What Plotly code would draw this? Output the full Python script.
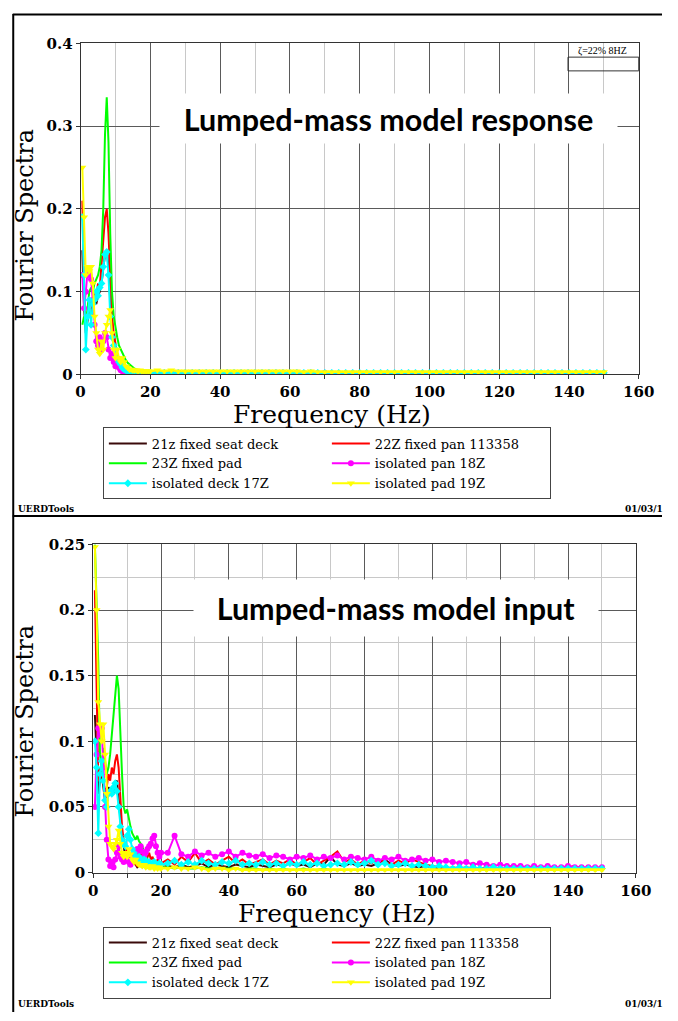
import plotly.graph_objects as go

W, H = 678, 1021

# ---------------- data ----------------
FREQ = [0.5, 1, 1.5, 2, 2.5, 3, 3.5, 4, 4.5, 5,
        5.5, 6, 6.5, 7, 7.5, 8, 8.5, 9, 9.5, 10,
        10.5, 11, 11.5, 12, 12.5, 13, 13.5, 14, 14.5, 15,
        15.5, 16, 16.5, 17, 17.5, 18, 18.5, 19, 19.5, 20,
        22, 24, 26, 28, 30, 32, 34, 36, 38, 40, 42, 44, 46,
        48, 50, 52, 54, 56, 58, 60, 62, 64, 66, 68, 70, 72,
        74, 76, 78, 80, 82, 84, 86, 88, 90, 92, 94, 96, 98,
        100, 102, 104, 106, 108, 110, 112, 114, 116, 118, 120, 122, 124,
        126, 128, 130, 132, 134, 136, 138, 140, 142, 144, 146, 148, 150]

SERIES_NAMES = ["21z fixed seat deck", "22Z fixed pan 113358", "23Z fixed pad",
                "isolated pan 18Z", "isolated deck 17Z", "isolated pad 19Z"]

# ---- response (top panel) ----
RESP_21Z = [0.15, 0.08, 0.05, 0.065, 0.08, 0.075, 0.07, 0.09, 0.085, 0.095,
            0.1, 0.11, 0.13, 0.145, 0.15, 0.13, 0.09, 0.06, 0.04, 0.03,
            0.022, 0.016, 0.012, 0.009, 0.007, 0.006, 0.005, 0.004, 0.004, 0.003,
            0.003, 0.003, 0.002, 0.002, 0.002, 0.002, 0.002, 0.002, 0.001, 0.001,
            0.001, 0.002, 0.001, 0.001, 0.002, 0.001, 0.001, 0.001, 0.002, 0.001, 0.001, 0.001, 0.001,
            0.001, 0.001, 0.002, 0.001, 0.001, 0.001, 0.001, 0.001, 0.001, 0.002, 0.001, 0.001, 0.001,
            0.001, 0.001, 0.001, 0.001, 0.001, 0.001, 0.001, 0.001, 0.001, 0.001, 0.001, 0.001, 0.001,
            0.001, 0.001, 0.001, 0.001, 0.001, 0.001, 0.001, 0.001, 0.001, 0.001, 0.001, 0.001, 0.001,
            0.001, 0.001, 0.001, 0.001, 0.001, 0.001, 0.001, 0.001, 0.001, 0.001, 0.001, 0.001, 0.001]
RESP_22Z = [0.21, 0.1, 0.06, 0.07, 0.09, 0.085, 0.075, 0.1, 0.095, 0.11,
            0.105, 0.13, 0.16, 0.19, 0.2, 0.17, 0.12, 0.07, 0.05, 0.035,
            0.025, 0.018, 0.013, 0.01, 0.008, 0.006, 0.005, 0.004, 0.004, 0.003,
            0.003, 0.003, 0.002, 0.003, 0.002, 0.002, 0.002, 0.002, 0.002, 0.001,
            0.002, 0.001, 0.002, 0.001, 0.002, 0.001, 0.002, 0.001, 0.001, 0.002, 0.001, 0.001, 0.002,
            0.001, 0.002, 0.001, 0.001, 0.002, 0.001, 0.001, 0.002, 0.001, 0.001, 0.001, 0.002, 0.001,
            0.001, 0.001, 0.002, 0.001, 0.001, 0.001, 0.001, 0.002, 0.001, 0.001, 0.001, 0.001, 0.001,
            0.001, 0.001, 0.001, 0.001, 0.001, 0.001, 0.001, 0.001, 0.001, 0.001, 0.001, 0.001, 0.001,
            0.001, 0.001, 0.001, 0.001, 0.001, 0.001, 0.001, 0.001, 0.001, 0.001, 0.001, 0.001, 0.001]
RESP_23Z = [0.06, 0.07, 0.06, 0.085, 0.1, 0.105, 0.1, 0.11, 0.115, 0.12,
            0.13, 0.15, 0.2, 0.29, 0.335, 0.28, 0.17, 0.1, 0.07, 0.055,
            0.045, 0.035, 0.03, 0.025, 0.02, 0.017, 0.014, 0.012, 0.01, 0.008,
            0.007, 0.006, 0.005, 0.004, 0.004, 0.003, 0.003, 0.003, 0.002, 0.002,
            0.002, 0.002, 0.002, 0.002, 0.002, 0.002, 0.002, 0.001, 0.002, 0.001, 0.002, 0.001, 0.001,
            0.001, 0.001, 0.001, 0.001, 0.001, 0.001, 0.001, 0.001, 0.001, 0.001, 0.001, 0.001, 0.001,
            0.001, 0.001, 0.001, 0.001, 0.001, 0.001, 0.001, 0.001, 0.001, 0.001, 0.001, 0.001, 0.001,
            0.001, 0.001, 0.001, 0.001, 0.001, 0.001, 0.001, 0.001, 0.001, 0.001, 0.001, 0.001, 0.001,
            0.001, 0.001, 0.001, 0.001, 0.001, 0.001, 0.001, 0.001, 0.001, 0.001, 0.001, 0.001, 0.001]
RESP_18Z = [0.12, 0.08, 0.1, 0.125, 0.12, 0.115, 0.09, 0.06, 0.04, 0.035,
            0.045, 0.03, 0.04, 0.05, 0.045, 0.03, 0.02, 0.025, 0.015, 0.01,
            0.012, 0.008, 0.005, 0.004, 0.003, 0.003, 0.003, 0.002, 0.002, 0.002,
            0.002, 0.002, 0.002, 0.002, 0.002, 0.002, 0.002, 0.002, 0.002, 0.002,
            0.002, 0.002, 0.002, 0.002, 0.002, 0.002, 0.002, 0.002, 0.002, 0.002, 0.002, 0.002, 0.002,
            0.002, 0.002, 0.002, 0.002, 0.002, 0.002, 0.002, 0.002, 0.001, 0.002, 0.001, 0.002, 0.001,
            0.001, 0.001, 0.001, 0.001, 0.001, 0.001, 0.001, 0.001, 0.001, 0.001, 0.001, 0.001, 0.001,
            0.001, 0.001, 0.001, 0.001, 0.001, 0.001, 0.001, 0.001, 0.001, 0.001, 0.001, 0.001, 0.001,
            0.001, 0.001, 0.001, 0.001, 0.001, 0.001, 0.001, 0.001, 0.001, 0.001, 0.001, 0.001, 0.001]
RESP_17Z = [0.19, 0.12, 0.03, 0.07, 0.09, 0.06, 0.085, 0.09, 0.1, 0.095,
            0.105, 0.11, 0.13, 0.145, 0.148, 0.12, 0.07, 0.045, 0.035, 0.03,
            0.02, 0.015, 0.012, 0.008, 0.006, 0.005, 0.004, 0.003, 0.003, 0.003,
            0.002, 0.002, 0.002, 0.002, 0.002, 0.002, 0.002, 0.002, 0.002, 0.002,
            0.002, 0.002, 0.002, 0.002, 0.002, 0.002, 0.002, 0.002, 0.002, 0.002, 0.002, 0.002, 0.002,
            0.002, 0.002, 0.002, 0.002, 0.002, 0.002, 0.002, 0.002, 0.002, 0.002, 0.002, 0.002, 0.002,
            0.002, 0.002, 0.002, 0.002, 0.002, 0.002, 0.002, 0.002, 0.002, 0.002, 0.002, 0.002, 0.002,
            0.002, 0.002, 0.002, 0.002, 0.002, 0.002, 0.002, 0.002, 0.002, 0.002, 0.002, 0.002, 0.002,
            0.002, 0.002, 0.002, 0.002, 0.002, 0.002, 0.002, 0.002, 0.002, 0.002, 0.002, 0.002, 0.002]
RESP_19Z = [0.25, 0.19, 0.12, 0.13, 0.125, 0.13, 0.11, 0.07, 0.05, 0.03,
            0.025, 0.04, 0.03, 0.05, 0.06, 0.07, 0.078, 0.05, 0.03, 0.02,
            0.03, 0.02, 0.015, 0.02, 0.015, 0.01, 0.008, 0.006, 0.006, 0.005,
            0.005, 0.005, 0.004, 0.005, 0.004, 0.004, 0.004, 0.004, 0.004, 0.004,
            0.005, 0.004, 0.005, 0.004, 0.004, 0.004, 0.004, 0.004, 0.004, 0.004, 0.004, 0.004, 0.004,
            0.004, 0.004, 0.004, 0.004, 0.004, 0.004, 0.004, 0.004, 0.003, 0.004, 0.003, 0.003, 0.003,
            0.003, 0.003, 0.003, 0.003, 0.003, 0.003, 0.003, 0.003, 0.003, 0.003, 0.003, 0.003, 0.003,
            0.003, 0.003, 0.003, 0.003, 0.003, 0.003, 0.003, 0.003, 0.003, 0.003, 0.003, 0.003, 0.003,
            0.003, 0.003, 0.003, 0.003, 0.003, 0.003, 0.003, 0.003, 0.003, 0.003, 0.003, 0.003, 0.003]

# ---- input (bottom panel) ----
INP_21Z = [0.12, 0.09, 0.06, 0.07, 0.075, 0.065, 0.055, 0.06, 0.065, 0.063,
           0.065, 0.06, 0.068, 0.07, 0.055, 0.04, 0.028, 0.02, 0.012, 0.01,
           0.008, 0.012, 0.007, 0.008, 0.006, 0.004, 0.005, 0.006, 0.004, 0.005,
           0.006, 0.004, 0.005, 0.005, 0.004, 0.006, 0.005, 0.004, 0.005, 0.004,
           0.005, 0.004, 0.006, 0.004, 0.005, 0.007, 0.004, 0.006, 0.005, 0.004, 0.006, 0.005, 0.004,
           0.006, 0.005, 0.004, 0.006, 0.005, 0.007, 0.005, 0.006, 0.004, 0.007, 0.006, 0.012, 0.006,
           0.005, 0.007, 0.005, 0.006, 0.005, 0.007, 0.01, 0.006, 0.005, 0.006, 0.005, 0.004, 0.005,
           0.004, 0.003, 0.003, 0.003, 0.002, 0.003, 0.002, 0.003, 0.002, 0.002, 0.002, 0.002, 0.002,
           0.002, 0.002, 0.002, 0.002, 0.002, 0.002, 0.002, 0.002, 0.002, 0.002, 0.002, 0.002, 0.002]
INP_22Z = [0.215, 0.14, 0.07, 0.08, 0.075, 0.07, 0.06, 0.065, 0.075, 0.07,
           0.08, 0.075, 0.085, 0.09, 0.08, 0.055, 0.035, 0.025, 0.02, 0.015,
           0.01, 0.008, 0.012, 0.01, 0.006, 0.005, 0.008, 0.015, 0.012, 0.01,
           0.008, 0.012, 0.015, 0.01, 0.012, 0.008, 0.006, 0.01, 0.008, 0.007,
           0.01, 0.006, 0.012, 0.008, 0.015, 0.007, 0.01, 0.006, 0.009, 0.012, 0.007, 0.01, 0.006,
           0.008, 0.01, 0.006, 0.009, 0.007, 0.01, 0.006, 0.008, 0.011, 0.006, 0.009, 0.012, 0.016,
           0.008, 0.01, 0.006, 0.009, 0.007, 0.01, 0.008, 0.006, 0.009, 0.007, 0.01, 0.008, 0.006,
           0.005, 0.004, 0.003, 0.004, 0.003, 0.004, 0.003, 0.003, 0.004, 0.003, 0.003, 0.003, 0.003,
           0.003, 0.003, 0.003, 0.002, 0.003, 0.003, 0.003, 0.004, 0.005, 0.003, 0.003, 0.002, 0.003]
INP_23Z = [0.25, 0.21, 0.16, 0.09, 0.08, 0.095, 0.085, 0.075, 0.08, 0.09,
           0.105, 0.12, 0.135, 0.15, 0.14, 0.1, 0.075, 0.05, 0.045, 0.048,
           0.04, 0.035, 0.03, 0.028, 0.025, 0.028, 0.024, 0.022, 0.02, 0.015,
           0.012, 0.01, 0.008, 0.007, 0.006, 0.005, 0.006, 0.005, 0.004, 0.004,
           0.004, 0.003, 0.004, 0.003, 0.003, 0.004, 0.003, 0.003, 0.003, 0.003, 0.003, 0.002, 0.003,
           0.003, 0.002, 0.003, 0.002, 0.003, 0.002, 0.002, 0.003, 0.002, 0.002, 0.003, 0.002, 0.002,
           0.002, 0.002, 0.002, 0.002, 0.002, 0.002, 0.002, 0.002, 0.002, 0.002, 0.002, 0.002, 0.002,
           0.002, 0.002, 0.002, 0.002, 0.002, 0.002, 0.002, 0.002, 0.002, 0.002, 0.002, 0.002, 0.002,
           0.002, 0.002, 0.002, 0.002, 0.002, 0.002, 0.002, 0.002, 0.002, 0.002, 0.002, 0.002, 0.002]
INP_18Z = [0.05, 0.09, 0.11, 0.105, 0.11, 0.08, 0.05, 0.025, 0.01, 0.005,
           0.008, 0.004, 0.01, 0.015, 0.02, 0.012, 0.01, 0.008, 0.012, 0.01,
           0.008, 0.006, 0.01, 0.012, 0.015, 0.018, 0.016, 0.02, 0.016, 0.012,
           0.015, 0.018, 0.02, 0.022, 0.026, 0.028, 0.02, 0.015, 0.012, 0.015,
           0.015, 0.028, 0.014, 0.012, 0.016, 0.013, 0.015, 0.012, 0.014, 0.016, 0.012, 0.015, 0.013,
           0.012, 0.014, 0.011, 0.013, 0.012, 0.01, 0.012, 0.011, 0.013, 0.01, 0.012, 0.011, 0.013,
           0.01, 0.012, 0.011, 0.01, 0.012, 0.009, 0.011, 0.01, 0.012, 0.009, 0.01, 0.011, 0.009,
           0.01, 0.008, 0.009, 0.008, 0.007, 0.008, 0.006, 0.007, 0.006, 0.005, 0.006, 0.005, 0.005,
           0.005, 0.004, 0.005, 0.004, 0.005, 0.004, 0.004, 0.005, 0.004, 0.004, 0.004, 0.004, 0.004]
INP_17Z = [0.1, 0.08, 0.03, 0.075, 0.085, 0.07, 0.055, 0.05, 0.06, 0.062,
           0.06, 0.065, 0.068, 0.062, 0.05, 0.035, 0.025, 0.022, 0.02, 0.028,
           0.033, 0.025, 0.018, 0.015, 0.012, 0.01, 0.012, 0.01, 0.008, 0.01,
           0.009, 0.007, 0.008, 0.006, 0.007, 0.008, 0.006, 0.005, 0.007, 0.006,
           0.007, 0.009, 0.006, 0.008, 0.006, 0.009, 0.007, 0.006, 0.008, 0.007, 0.009, 0.006, 0.007,
           0.006, 0.008, 0.006, 0.007, 0.005, 0.007, 0.006, 0.008, 0.006, 0.007, 0.005, 0.006, 0.007,
           0.006, 0.008, 0.006, 0.007, 0.009, 0.006, 0.007, 0.005, 0.006, 0.007, 0.005, 0.006, 0.005,
           0.004, 0.005, 0.004, 0.003, 0.004, 0.003, 0.004, 0.003, 0.003, 0.004, 0.003, 0.003, 0.003,
           0.003, 0.003, 0.003, 0.003, 0.003, 0.003, 0.003, 0.003, 0.003, 0.003, 0.003, 0.003, 0.003]
INP_19Z = [0.248, 0.2, 0.13, 0.113, 0.1, 0.113, 0.09, 0.06, 0.035, 0.022,
           0.02, 0.018, 0.022, 0.025, 0.032, 0.022, 0.015, 0.012, 0.015, 0.012,
           0.018, 0.014, 0.01, 0.008, 0.01, 0.007, 0.006, 0.006, 0.005, 0.006,
           0.004, 0.005, 0.004, 0.004, 0.005, 0.003, 0.004, 0.003, 0.004, 0.003,
           0.003, 0.004, 0.003, 0.003, 0.004, 0.003, 0.002, 0.003, 0.003, 0.002, 0.003, 0.002, 0.002,
           0.002, 0.002, 0.002, 0.002, 0.002, 0.002, 0.002, 0.002, 0.002, 0.002, 0.002, 0.002, 0.002,
           0.002, 0.002, 0.002, 0.002, 0.002, 0.002, 0.002, 0.002, 0.002, 0.002, 0.002, 0.002, 0.002,
           0.002, 0.002, 0.002, 0.002, 0.002, 0.002, 0.002, 0.002, 0.002, 0.002, 0.002, 0.002, 0.002,
           0.002, 0.002, 0.002, 0.002, 0.002, 0.002, 0.002, 0.002, 0.002, 0.002, 0.002, 0.002, 0.002]

TOP_SERIES = [RESP_21Z, RESP_22Z, RESP_23Z, RESP_18Z, RESP_17Z, RESP_19Z]
BOT_SERIES = [INP_21Z, INP_22Z, INP_23Z, INP_18Z, INP_17Z, INP_19Z]

X_TICKS = [0, 20, 40, 60, 80, 100, 120, 140, 160]
TOP_Y_TICKS = [0, 0.1, 0.2, 0.3, 0.4]
BOT_Y_TICKS = [0, 0.05, 0.1, 0.15, 0.2, 0.25]

# ---------------- styles ----------------
COLORS = ["#3a0a0a", "#ff0000", "#00ff00", "#ff00ff", "#00ffff", "#ffff00"]
MARKERS = [None, None, None,
           dict(symbol="circle", size=6),
           dict(symbol="diamond", size=6),
           dict(symbol="triangle-down", size=7)]

def px(x):
    return min(max(x / W, 0), 1)

def py(y):
    return min(max(1 - y / H, 0), 1)

SERIF = "DejaVu Serif"

fig = go.Figure()

for panel, series, leg in [(1, TOP_SERIES, "legend"), (2, BOT_SERIES, "legend2")]:
    xa = "x" if panel == 1 else "x2"
    ya = "y" if panel == 1 else "y2"
    for name, vals, col, mk in zip(SERIES_NAMES, series, COLORS, MARKERS):
        n = min(len(FREQ), len(vals))
        kw = dict(mode="lines")
        if mk is not None:
            kw = dict(mode="lines+markers", marker=dict(color=col, **mk))
        fig.add_trace(go.Scatter(x=FREQ[:n], y=vals[:n], name=name, xaxis=xa, yaxis=ya,
                                 legend=leg, line=dict(color=col, width=2), **kw))

tickfont = dict(family=SERIF, size=15, color="black", weight="bold")
MAJOR = "#5a5a5a"
MINOR = "#c8c8c8"

def xaxis(dom, anchor):
    return dict(domain=dom, anchor=anchor, range=[0, 160], tickvals=X_TICKS,
                showgrid=True, gridcolor=MAJOR, gridwidth=1, zeroline=False,
                showline=True, linecolor="#333333", linewidth=1, mirror=True,
                ticks="outside", ticklen=4, tickcolor="#333333", tickfont=tickfont,
                minor=dict(dtick=10, tick0=0, showgrid=True, gridcolor=MINOR,
                           ticks="outside", ticklen=4, tickcolor="#333333"))

def yaxis(dom, anchor, rng, ticks, minor):
    d = dict(domain=dom, anchor=anchor, range=rng, tickvals=ticks,
             showgrid=True, gridcolor=MAJOR, gridwidth=1, zeroline=False,
             showline=True, linecolor="#333333", linewidth=1, mirror=True,
             ticks="outside", ticklen=4, tickcolor="#333333", tickfont=tickfont)
    if minor:
        d["minor"] = dict(dtick=minor, tick0=0, showgrid=True, gridcolor=MINOR)
    return d

legend_common = dict(orientation="h", xanchor="left", yanchor="top",
                     bgcolor="white", bordercolor="#444444", borderwidth=1,
                     font=dict(family=SERIF, size=13, color="black"),
                     entrywidth=170, entrywidthmode="pixels", itemwidth=38,
                     tracegroupgap=0, traceorder="normal")

shapes = [
    dict(type="line", xref="paper", yref="paper", x0=px(8.5), x1=px(8.5), y0=py(5), y1=py(1021),
         line=dict(color="black", width=2)),
    dict(type="line", xref="paper", yref="paper", x0=px(8), x1=px(678), y0=py(5.5), y1=py(5.5),
         line=dict(color="black", width=2)),
    dict(type="line", xref="paper", yref="paper", x0=px(8), x1=px(678), y0=py(516), y1=py(516),
         line=dict(color="black", width=2)),
    # small annotation box (top right)
    dict(type="rect", xref="paper", yref="paper", x0=px(581), x1=px(654), y0=py(63), y1=py(49),
         line=dict(color="#333333", width=1), fillcolor="rgba(0,0,0,0)"),
]

ann = []
def add_text(text, x, y, size, family=SERIF, xanchor="center", yanchor="middle", angle=0,
             bold=False, **extra):
    ann.append(dict(text=text, x=px(x), y=py(y), xref="paper", yref="paper", showarrow=False,
                    xanchor=xanchor, yanchor=yanchor, textangle=angle,
                    font=dict(family=family, size=size, color="black",
                              weight="bold" if bold else "normal"), **extra))

add_text("Frequency (Hz)", 337, 413, 25)
add_text("Frequency (Hz)", 343, 921, 25)
add_text("Fourier Spectra", 21, 220, 24, angle=-90)
add_text("Fourier Spectra", 21, 725, 24, angle=-90)
add_text("Lumped-mass model response", 396, 111.5, 30.5, family="Lato", bold=True,
         bgcolor="white", width=455, height=47)
add_text("Lumped-mass model input", 404, 610, 30.5, family="Lato", bold=True,
         bgcolor="white", width=402, height=54)
add_text("ζ=22% 8HZ", 617, 43, 10, family="Liberation Serif")
add_text("UERDTools", 11, 509, 9, xanchor="left", bold=True)
add_text("UERDTools", 11, 1013, 9, xanchor="left", bold=True)
add_text("01/03/1", 638, 509, 9, xanchor="left", bold=True)
add_text("01/03/1", 638, 1013, 9, xanchor="left", bold=True)

fig.update_layout(
    width=W, height=H, margin=dict(l=0, r=0, t=0, b=0),
    paper_bgcolor="white", plot_bgcolor="white",
    font=dict(family=SERIF, color="black"),
    xaxis=xaxis([px(78), px(654)], "y"),
    yaxis=yaxis([py(372), py(35)], "x", [0, 0.4], TOP_Y_TICKS, None),
    xaxis2=xaxis([px(91), px(651)], "y2"),
    yaxis2=yaxis([py(879), py(545)], "x2", [0, 0.25], BOT_Y_TICKS, 0.025),
    legend=dict(x=px(101), y=py(426), **legend_common),
    legend2=dict(x=px(101), y=py(934), **legend_common),
    shapes=shapes, annotations=ann, showlegend=True,
)

fig.write_html("out.html")
